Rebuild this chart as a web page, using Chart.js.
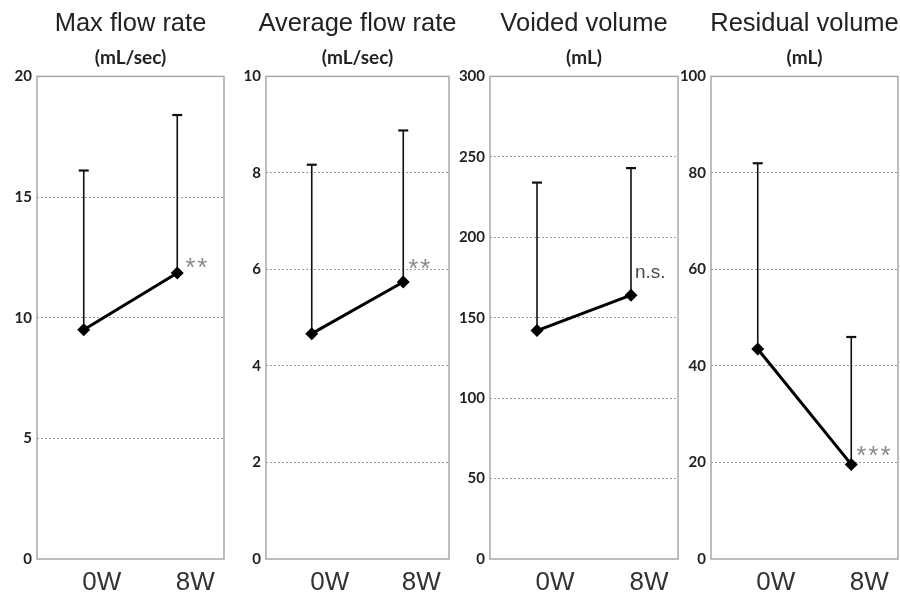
<!DOCTYPE html>
<html>
<head>
<meta charset="utf-8">
<script src="https://cdn.jsdelivr.net/npm/chart.js@4/dist/chart.umd.min.js"></script>
<style>
  html, body { margin: 0; padding: 0; background: #fff; }
  #wrap { position: relative; width: 900px; height: 605px; overflow: hidden; }
  .panel { position: absolute; top: 0; }
</style>
</head>
<body>
<div id="wrap"></div>
<script>
// Data (mean, upper SD) at 0 and 8 weeks
const timePoints = ['0W', '8W'];

const maxFlowMean = [9.5, 11.85];
const maxFlowSD = [6.6, 6.55];

const avgFlowMean = [4.67, 5.74];
const avgFlowSD = [3.5, 3.14];

const voidedMean = [142, 164];
const voidedSD = [92, 79];

const residualMean = [43.5, 19.6];
const residualSD = [38.5, 26.4];

const titles = ['Max flow rate', 'Average flow rate', 'Voided volume', 'Residual volume'];
const units = ['(mL/sec)', '(mL/sec)', '(mL)', '(mL)'];
const yMaxes = [20, 10, 300, 100];
const ySteps = [5, 2, 50, 20];
const sigLabels = ['**', '**', 'n.s.', '***'];

const means = [maxFlowMean, avgFlowMean, voidedMean, residualMean];
const sds = [maxFlowSD, avgFlowSD, voidedSD, residualSD];

// Layout: chart area left/right edge on the page, plus where the sig mark sits
const AXIS_W = 37;
const panels = [
  { left: 37, right: 224, sigDx: 8, sigDy: -4, sigFont: 26, sigColor: '#8a8a8a' },
  { left: 266, right: 449, sigDx: 5, sigDy: -12, sigFont: 26, sigColor: '#8a8a8a' },
  { left: 490, right: 678, sigDx: 4, sigDy: -22, sigFont: 19, sigColor: '#4a4a4a' },
  { left: 711, right: 898, sigDx: 5, sigDy: -8, sigFont: 26, sigColor: '#8a8a8a' }
];

// Upward-only error bars with a small cap
const errorBars = {
  id: 'errorBars',
  beforeDatasetsDraw(chart, args, opts) {
    const { ctx } = chart;
    const y = chart.scales.y;
    const meta = chart.getDatasetMeta(0);
    const vals = chart.data.datasets[0].data;
    ctx.save();
    ctx.strokeStyle = '#111';
    meta.data.forEach((pt, i) => {
      const top = y.getPixelForValue(vals[i] + opts.sd[i]);
      ctx.lineWidth = 1.6;
      ctx.beginPath();
      ctx.moveTo(pt.x, pt.y);
      ctx.lineTo(pt.x, top);
      ctx.stroke();
      ctx.lineWidth = 2.2;
      ctx.beginPath();
      ctx.moveTo(pt.x - 5, top);
      ctx.lineTo(pt.x + 5, top);
      ctx.stroke();
    });
    ctx.restore();
  }
};

// Grey frame around the plot area
const frame = {
  id: 'frame',
  beforeDatasetsDraw(chart) {
    const { ctx, chartArea: a } = chart;
    ctx.save();
    ctx.strokeStyle = '#a8a8a8';
    ctx.lineWidth = 1.5;
    ctx.strokeRect(a.left, a.top, a.right - a.left, a.bottom - a.top);
    ctx.restore();
  }
};

// Significance mark next to the 8W point
const sigMark = {
  id: 'sigMark',
  afterDatasetsDraw(chart, args, opts) {
    const { ctx } = chart;
    const meta = chart.getDatasetMeta(0);
    const pt = meta.data[meta.data.length - 1];
    ctx.save();
    ctx.fillStyle = opts.color;
    ctx.font = opts.size + 'px "Liberation Sans", Arial, sans-serif';
    if (opts.text.startsWith('*')) ctx.letterSpacing = '2px';
    ctx.textAlign = 'left';
    ctx.textBaseline = 'middle';
    ctx.fillText(opts.text, pt.x + opts.dx, pt.y + opts.dy);
    ctx.restore();
  }
};

const wrap = document.getElementById('wrap');

panels.forEach((p, i) => {
  const div = document.createElement('div');
  div.className = 'panel';
  const w = p.right - p.left + AXIS_W * 2;
  div.style.left = (p.left - AXIS_W) + 'px';
  const canvas = document.createElement('canvas');
  canvas.width = w;
  canvas.height = 605;
  div.appendChild(canvas);
  wrap.appendChild(div);

  const yMax = yMaxes[i];

  new Chart(canvas, {
    type: 'line',
    data: {
      labels: timePoints,
      datasets: [{
        data: means[i],
        borderColor: '#000',
        backgroundColor: '#000',
        borderWidth: 3,
        pointStyle: 'rectRot',
        pointRadius: 6.5,
        pointBorderWidth: 0,
        tension: 0
      }]
    },
    options: {
      responsive: false,
      animation: false,
      layout: { padding: 0 },
      plugins: {
        legend: { display: false },
        tooltip: { enabled: false },
        title: {
          display: true,
          text: titles[i],
          color: '#222',
          font: { family: '"Liberation Sans", Arial, sans-serif', size: 25.5, weight: 'normal', lineHeight: 1.2 },
          padding: { top: 8.5, bottom: 7 }
        },
        subtitle: {
          display: true,
          text: units[i],
          color: '#222',
          font: { family: 'Lato, sans-serif', size: 19, weight: 'bold', lineHeight: 1.2 },
          padding: { top: 0, bottom: 7.5 }
        },
        errorBars: { sd: sds[i] },
        sigMark: { text: sigLabels[i], dx: p.sigDx, dy: p.sigDy, size: p.sigFont, color: p.sigColor }
      },
      scales: {
        x: {
          offset: true,
          afterFit(scale) { scale.height = 46; },
          grid: { display: false, drawTicks: false },
          border: { display: false },
          ticks: {
            color: '#333',
            padding: 8,
            labelOffset: 18,
            font: { family: '"Liberation Sans", Arial, sans-serif', size: 26 }
          }
        },
        y: {
          min: 0,
          max: yMax,
          afterFit(scale) { scale.width = AXIS_W; },
          grid: {
            drawTicks: false,
            lineWidth: 1,
            color: ctx => (ctx.tick && (ctx.tick.value === 0 || ctx.tick.value === yMax)) ? 'rgba(0,0,0,0)' : '#9a9a9a'
          },
          border: { display: false, dash: [2, 2] },
          ticks: {
            stepSize: ySteps[i],
            color: '#222',
            padding: 5,
            font: { family: 'Lato, sans-serif', size: 15, weight: 'bold' }
          }
        },
        // empty right axis so the titles centre over the plot area
        yPad: {
          position: 'right',
          min: 0,
          max: yMax,
          afterFit(scale) { scale.width = AXIS_W; },
          grid: { display: false, drawTicks: false },
          border: { display: false },
          ticks: { display: false }
        }
      }
    },
    plugins: [frame, errorBars, sigMark]
  });
});
</script>
</body>
</html>
